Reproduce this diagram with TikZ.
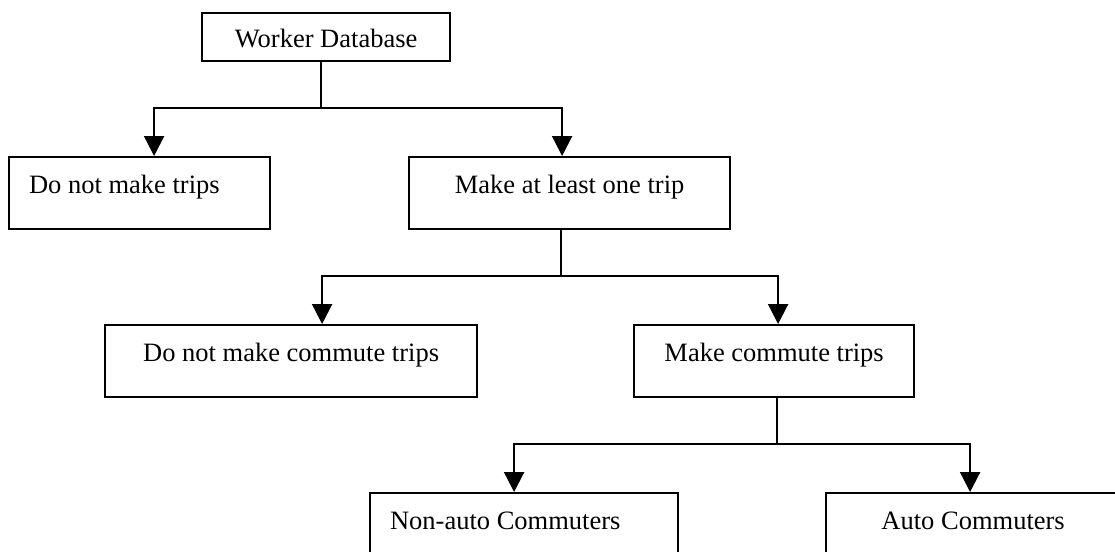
\documentclass[tikz,border=0pt]{standalone}
\usepackage{fontspec}
\setmainfont{Liberation Serif}
\usetikzlibrary{arrows.meta}
\begin{document}
\begin{tikzpicture}[x=1pt,y=-1pt,
  every node/.style={font=\fontsize{26.5}{30}\selectfont},
  box/.style={draw, line width=2.2pt, anchor=north west, inner sep=0pt, minimum height=72pt,
              text height=18pt, text depth=18pt, align=center},
  conn/.style={line width=2.2pt},
  arr/.style={conn, -{Triangle[length={20pt 0},width={20pt 0}]}}]
\clip (0,0) rectangle (1115,551);
\fill[white] (0,0) rectangle (1115,551);
% boxes
\node[box, minimum width=248pt, minimum height=48pt, text height=21.4pt, text depth=0pt] (wd) at (201,12) {Worker Database};
\node[box, minimum width=261pt] (dnt) at (8,156) {\makebox[221pt][l]{Do not make trips}};
\node[box, minimum width=321pt] (mal) at (408,156) {Make at least one trip};
\node[box, minimum width=372pt] (dnc) at (104,324) {Do not make commute trips};
\node[box, minimum width=280pt] (mct) at (633,324) {Make commute trips};
\node[box, minimum width=308pt] (nac) at (369,492) {\makebox[268pt][l]{Non-auto Commuters}};
\node[box, minimum width=294pt] (ac) at (825,492) {Auto Commuters};
% junctions
\coordinate (j1) at (321,108);
\coordinate (j2) at (561,276);
\coordinate (j3) at (777,444);
% connectors
\draw[conn] (wd.south -| j1) -- (j1);
\draw[arr] (j1) -| ([xshift=14.5pt]dnt.north);
\draw[arr] (j1) -| ([xshift=-7.5pt]mal.north);
\draw[conn] (mal.south -| j2) -- (j2);
\draw[arr] (j2) -| ([xshift=31pt]dnc.north);
\draw[arr] (j2) -| ([xshift=4pt]mct.north);
\draw[conn] (mct.south -| j3) -- (j3);
\draw[arr] (j3) -| ([xshift=-10pt]nac.north);
\draw[arr] (j3) -| ([xshift=-3pt]ac.north);
\end{tikzpicture}
\end{document}
